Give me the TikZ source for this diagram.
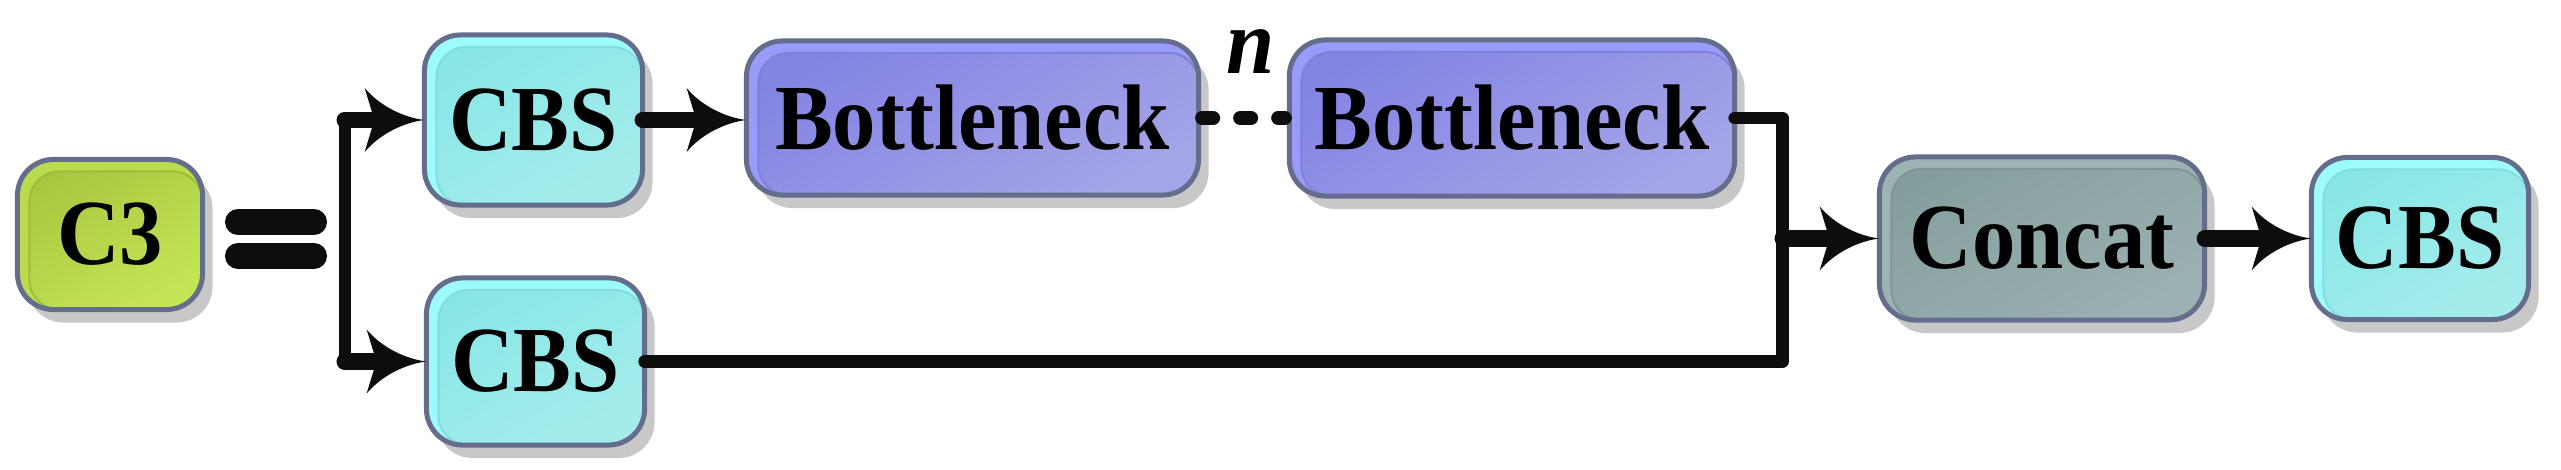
\documentclass[tikz,border=0pt]{standalone}
\usepackage{fontspec}
\setmainfont{Liberation Serif}[FakeStretch=0.93]
\usetikzlibrary{arrows.meta,shadows,calc}

\pgfdeclarearrow{
  name = Swoop,
  parameters = {\the\pgfarrowlength,\the\pgfarrowwidth},
  setup code = {
    \pgfarrowssettipend{0pt}
    \pgfarrowssetlineend{-0.85\pgfarrowlength}
    \pgfarrowssetvisualbackend{-0.87\pgfarrowlength}
    \pgfarrowssetbackend{-\pgfarrowlength}
    \pgfarrowssavethe\pgfarrowlength
    \pgfarrowssavethe\pgfarrowwidth
  },
  drawing code = {
    \pgfpathmoveto{\pgfpointorigin}
    \pgfpathcurveto{\pgfpoint{-0.35\pgfarrowlength}{0.04\pgfarrowwidth}}{\pgfpoint{-0.75\pgfarrowlength}{0.22\pgfarrowwidth}}{\pgfpoint{-\pgfarrowlength}{0.5\pgfarrowwidth}}
    \pgfpathlineto{\pgfpoint{-0.87\pgfarrowlength}{0.1\pgfarrowwidth}}
    \pgfpathlineto{\pgfpoint{-0.87\pgfarrowlength}{-0.1\pgfarrowwidth}}
    \pgfpathlineto{\pgfpoint{-\pgfarrowlength}{-0.5\pgfarrowwidth}}
    \pgfpathcurveto{\pgfpoint{-0.75\pgfarrowlength}{-0.22\pgfarrowwidth}}{\pgfpoint{-0.35\pgfarrowlength}{-0.04\pgfarrowwidth}}{\pgfpointorigin}
    \pgfpathclose
    \pgfusepathqfill
  },
  defaults = {length = 17pt, width = 18.2pt}
}

\definecolor{bordc}{HTML}{656D8D}
\definecolor{shadc}{HTML}{C8C8C8}
\definecolor{linec}{HTML}{0D0D0D}
\definecolor{cbsH}{HTML}{9CFCFC}
\definecolor{cbsA}{HTML}{88E6E6}
\definecolor{cbsB}{HTML}{A4ECEC}
\definecolor{cbsO}{HTML}{84DCDC}
\definecolor{bnH}{HTML}{9A9AFA}
\definecolor{bnA}{HTML}{8383E4}
\definecolor{bnB}{HTML}{A4A4E8}
\definecolor{bnO}{HTML}{8080D8}
\definecolor{ccH}{HTML}{9CB3B3}
\definecolor{ccA}{HTML}{849E9E}
\definecolor{ccB}{HTML}{9CB1B1}
\definecolor{ccO}{HTML}{7E9696}
\definecolor{c3H}{HTML}{B8DC4C}
\definecolor{c3A}{HTML}{A8C640}
\definecolor{c3B}{HTML}{C4E655}
\definecolor{c3O}{HTML}{A0BC3C}

\newcommand\bxfont{\fontsize{26.5}{30}\selectfont\bfseries}

\tikzset{
  box/.style n args={4}{
    draw=bordc, line width=0.05cm, rounded corners=0.36cm,
    inner sep=0pt, outer sep=0pt, fill=#1, font=\bxfont, text=black,
    drop shadow={shadow xshift=0.1cm, shadow yshift=-0.13cm, fill=shadc, opacity=1},
    path picture={
      \shade[top color=#2, bottom color=#3, shading angle=30, draw=#4,
             line width=0.02cm, rounded corners=0.3cm]
        ([shift={(0.12cm,-0.12cm)}]path picture bounding box.north west)
        rectangle (path picture bounding box.south east);
    }
  },
  cbs/.style={box={cbsH}{cbsA}{cbsB}{cbsO}},
  bneck/.style={box={bnH}{bnA}{bnB}{bnO}},
  ccat/.style={box={ccH}{ccA}{ccB}{ccO}},
  cthree/.style={box={c3H}{c3A}{c3B}{c3O}},
  shaft/.style={draw=linec, line width=0.16cm, line cap=round, -{Swoop}},
  wire/.style={draw=linec, line width=0.125cm, line cap=round, line join=round},
  dots/.style={draw=linec, line width=0.14cm, line cap=round, dash pattern=on 0.11cm off 0.27cm},
  eqbar/.style={draw=linec, line width=0.26cm, line cap=round}
}

\begin{document}
\begin{tikzpicture}[x=0.01cm, y=-0.01cm]
\useasboundingbox (0,0) rectangle (2561,470);

% boxes
\node[cthree, minimum width=1.85cm, minimum height=1.50cm] (c3) at (110,234.5) {C3};
\node[cbs, minimum width=2.18cm, minimum height=1.70cm] (cbs1) at (533.5,120) {CBS};
\node[cbs, minimum width=2.18cm, minimum height=1.67cm] (cbs2) at (535.5,361.5) {CBS};
\node[bneck, minimum width=4.52cm, minimum height=1.54cm] (bn1) at (972.5,118) {Bottleneck};
\node[bneck, minimum width=4.45cm, minimum height=1.56cm] (bn2) at (1512,118) {Bottleneck};
\node[ccat, minimum width=3.25cm, minimum height=1.63cm] (concat) at (2042,238.5) {Concat};
\node[cbs, minimum width=2.17cm, minimum height=1.62cm] (cbs3) at (2420,238.5) {CBS};

\node[font=\bxfont\itshape, inner sep=0pt] (nlab) at (1251,51.5) {n};

% equals sign
\coordinate (eqa) at (238,222);
\coordinate (eqb) at (314,222);
\coordinate (eqc) at (238,256);
\coordinate (eqd) at (314,256);
\draw[eqbar] (eqa) -- (eqb);
\draw[eqbar] (eqc) -- (eqd);

% split bracket
\coordinate (brT) at (344.5,120);
\coordinate (brB) at (344.5,361.5);
\draw[wire, line width=0.12cm] (brT) -- (brB);
\draw[shaft] (brT) -- (brT -| cbs1.west);
\draw[shaft] (brB) -- (brB -| cbs2.west);

% main chain
\draw[shaft] (cbs1.east) -- (cbs1.east -| bn1.west);
\draw[dots, shorten <=0.035cm, shorten >=0.045cm] (bn1.east) -- (bn1.east -| bn2.west);

% merge
\coordinate (jx) at (1782.5,0);
\draw[wire] (bn2.east) -- (bn2.east -| jx) -- (jx |- cbs2.east) -- (cbs2.east);
\draw[shaft] (jx |- concat.west) -- (concat.west);
\draw[shaft] (concat.east) -- (cbs3.west);
\end{tikzpicture}
\end{document}
